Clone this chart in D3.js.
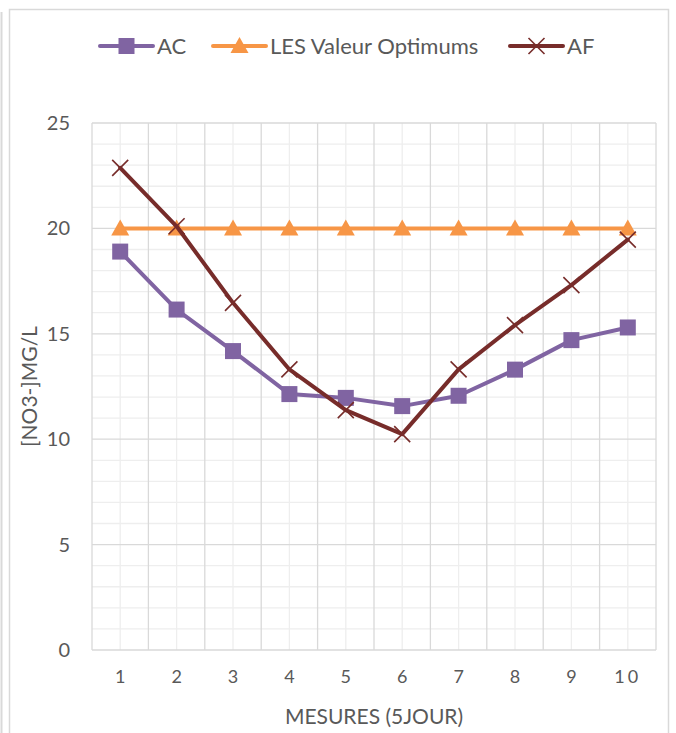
<!DOCTYPE html>
<html>
<head>
<meta charset="utf-8">
<script src="https://cdn.jsdelivr.net/npm/d3@7"></script>
<style>
  html, body { margin: 0; padding: 0; background: #fff; }
  svg { display: block; font-family: Lato, "Open Sans", sans-serif; }
</style>
</head>
<body>
<svg id="chart" width="676" height="733"></svg>
<script>
// Nitrate measurements, one value per 5-day measurement
const categories = ["1", "2", "3", "4", "5", "6", "7", "8", "9", "10"];
const acValues = [18.9, 16.15, 14.18, 12.14, 11.96, 11.57, 12.06, 13.3, 14.7, 15.3];
const optimumValues = [20, 20, 20, 20, 20, 20, 20, 20, 20, 20];
const afValues = [22.87, 20.1, 16.47, 13.31, 11.38, 10.24, 13.31, 15.41, 17.31, 19.47];
const yTicks = [0, 5, 10, 15, 20, 25];
const yMinorTicks = d3.range(0, 26, 1);

const series = [
  { name: "AC", values: acValues, color: "#8064a2", marker: "square" },
  { name: "LES Valeur Optimums", values: optimumValues, color: "#f79646", marker: "triangle" },
  { name: "AF", values: afValues, color: "#772c2a", marker: "cross" }
];

(function draw() {
  const svg = d3.select("#chart");
  const textColor = "#595959";
  const font = "Lato, 'Open Sans', sans-serif";

  // outer frame
  svg.append("line").attr("x1", 1.5).attr("x2", 1.5).attr("y1", 12).attr("y2", 733)
    .attr("stroke", "#d9d9d9").attr("stroke-width", 2);
  svg.append("rect").attr("x", 9.5).attr("y", 9.5).attr("width", 659).attr("height", 740)
    .attr("fill", "#fff").attr("stroke", "#d9d9d9").attr("stroke-width", 1.5);

  const pLeft = 92, pRight = 656, pTop = 123, pBottom = 650;
  const x = d3.scaleBand().domain(categories).range([pLeft, pRight]);
  const y = d3.scaleLinear().domain([0, 25]).range([pBottom, pTop]);

  const grid = svg.append("g");
  // minor horizontal grid
  grid.selectAll("line.hmin").data(yMinorTicks.filter(v => v % 5 !== 0)).join("line")
    .attr("class", "hmin")
    .attr("x1", pLeft).attr("x2", pRight).attr("y1", d => y(d)).attr("y2", d => y(d))
    .attr("stroke", "#eeeeee").attr("stroke-width", 1.3);
  // minor vertical grid at category centres
  grid.selectAll("line.vmin").data(categories).join("line")
    .attr("class", "vmin")
    .attr("x1", d => x(d) + x.bandwidth() / 2).attr("x2", d => x(d) + x.bandwidth() / 2)
    .attr("y1", pTop).attr("y2", pBottom)
    .attr("stroke", "#eeeeee").attr("stroke-width", 1.3);
  // major horizontal grid
  grid.selectAll("line.hmaj").data(yTicks).join("line")
    .attr("class", "hmaj")
    .attr("x1", pLeft).attr("x2", pRight).attr("y1", d => y(d)).attr("y2", d => y(d))
    .attr("stroke", "#d9d9d9").attr("stroke-width", 1.3);
  // major vertical grid at band boundaries
  grid.selectAll("line.vmaj").data(categories.concat(["end"])).join("line")
    .attr("class", "vmaj")
    .attr("x1", (d, i) => i < categories.length ? x(d) : pRight)
    .attr("x2", (d, i) => i < categories.length ? x(d) : pRight)
    .attr("y1", pTop).attr("y2", pBottom)
    .attr("stroke", "#d9d9d9").attr("stroke-width", 1.3);

  // y axis labels
  const yAxis = d3.axisLeft(y).tickValues(yTicks).tickSize(0).tickPadding(22);
  svg.append("g").attr("transform", `translate(${pLeft},0)`).call(yAxis)
    .call(g => g.select(".domain").remove())
    .call(g => g.selectAll("text").attr("fill", textColor).attr("font-size", 20)
      .attr("font-family", font));

  // x axis labels
  const xAxis = d3.axisBottom(x).tickSize(0).tickPadding(20);
  svg.append("g").attr("transform", `translate(0,${pBottom})`).call(xAxis)
    .call(g => g.select(".domain").remove())
    .call(g => g.selectAll("text").attr("fill", textColor).attr("font-size", 18)
      .attr("letter-spacing", d => d.length > 1 ? "3px" : "0px")
      .attr("font-family", font));

  // axis titles
  svg.append("text").attr("x", (pLeft + pRight) / 2).attr("y", 724).attr("text-anchor", "middle")
    .attr("font-family", font).attr("fill", textColor).attr("font-size", 21).text("MESURES (5JOUR)");
  svg.append("text").attr("transform", `translate(37,${(pTop + pBottom) / 2}) rotate(-90)`)
    .attr("font-family", font).attr("text-anchor", "middle").attr("fill", textColor)
    .attr("font-size", 21).text("[NO3-]MG/L");

  const cx = i => x(categories[i]) + x.bandwidth() / 2;
  const line = d3.line().x((d, i) => cx(i)).y(d => y(d));

  function drawMarker(g, type, color, px, py) {
    if (type === "square") {
      g.append("rect").attr("x", px - 8).attr("y", py - 8).attr("width", 16).attr("height", 16)
        .attr("fill", color);
    } else if (type === "triangle") {
      g.append("path").attr("d", `M${px},${py - 9}L${px + 9},${py + 7}L${px - 9},${py + 7}Z`)
        .attr("fill", color);
    } else {
      g.append("path").attr("d", `M${px - 8},${py - 8}L${px + 8},${py + 8}M${px + 8},${py - 8}L${px - 8},${py + 8}`)
        .attr("stroke", color).attr("stroke-width", 1.6).attr("fill", "none");
    }
  }

  series.forEach(s => {
    const g = svg.append("g");
    g.append("path").datum(s.values).attr("d", line).attr("fill", "none")
      .attr("stroke", s.color).attr("stroke-width", 4).attr("stroke-linejoin", "round")
      .attr("stroke-linecap", "round");
    s.values.forEach((v, i) => drawMarker(g, s.marker, s.color, cx(i), y(v)));
  });

  // legend
  const legendX = [100, 213, 510];
  series.forEach((s, k) => {
    const g = svg.append("g");
    const x0 = legendX[k], ly = 46;
    g.append("line").attr("x1", x0).attr("x2", x0 + 53).attr("y1", ly).attr("y2", ly)
      .attr("stroke", s.color).attr("stroke-width", 4).attr("stroke-linecap", "round");
    drawMarker(g, s.marker, s.color, x0 + 26.5, ly);
    g.append("text").attr("x", x0 + 57).attr("y", ly + 8).attr("fill", textColor)
      .attr("font-family", font).attr("font-size", 22).text(s.name);
  });
})();
</script>
</body>
</html>
